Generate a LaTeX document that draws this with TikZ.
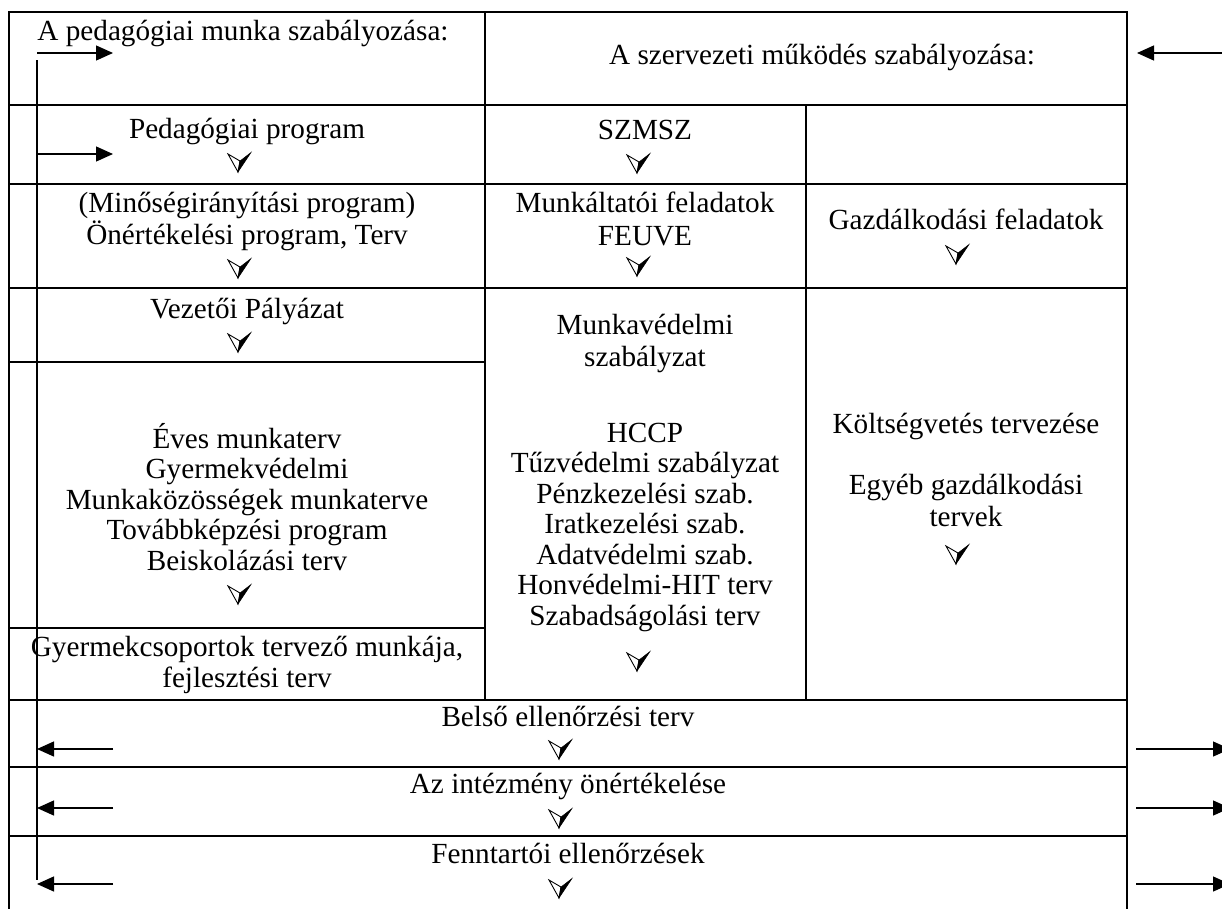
\documentclass[tikz,border=0pt]{standalone}
\usepackage{fontspec}
\setmainfont{Liberation Serif}
\usetikzlibrary{arrows.meta}
\newcommand\cellfont{\fontsize{29.2}{30.5}\selectfont}
\tikzset{
  grid/.style={line width=2.2pt, line cap=rect},
  thinln/.style={line width=1.3pt},
  flow/.style={line width=1.3pt, -{Triangle[length=17pt,width=15pt]}},
  cell/.style={anchor=base, align=center, inner sep=0pt, font=\cellfont},
  darr/.pic={
    \draw[line width=0.9pt, line join=miter, fill=white] (-11,-8) -- (1,-1) -- (-1,10) -- cycle;
    \fill[black] (1,-1) -- (12,-9.5) -- (-1,10) -- cycle;
    \draw[line width=0.5pt, line join=miter] (1,-1) -- (12,-9.5) -- (-1,10) -- cycle;
  }
}
\begin{document}
\begin{tikzpicture}[x=1pt,y=-1pt]
\useasboundingbox (0,0) rectangle (1222,908);
\clip (0,0) rectangle (1222,908);

% table frame
\draw[grid] (9,920) -- (9,12) -- (1127,12) -- (1127,920);
\draw[grid] (485,12) -- (485,700);
\draw[grid] (806,105) -- (806,700);
\foreach \yy in {105,184,288,700,767,836} \draw[grid] (9,\yy) -- (1127,\yy);
\foreach \yy in {362,628} \draw[grid] (9,\yy) -- (485,\yy);

% cell texts (base = baseline of the last line)
\node[cell] (pedmunka) at (243,40) {A pedagógiai munka szabályozása:};
\node[cell] (szervmuk) at (822,64) {A szervezeti működés szabályozása:};
\node[cell] (pedprog) at (247,138) {Pedagógiai program};
\node[cell] (szmsz) at (645,139) {SZMSZ};
\node[cell] (minoseg) at (247,244) {(Minőségirányítási program)\\[1.5pt]Önértékelési program, Terv};
\node[cell] (munkalt) at (645,245) {Munkáltatói feladatok\\[2.5pt]FEUVE};
\node[cell] (gazd) at (966,229) {Gazdálkodási feladatok};
\node[cell] (vezpal) at (247,318) {Vezetői Pályázat};
\node[cell] (eves) at (247,570) {Éves munkaterv\\Gyermekvédelmi\\Munkaközösségek munkaterve\\Továbbképzési program\\Beiskolázási terv};
\node[cell] (gyermcs) at (247,687) {Gyermekcsoportok tervező munkája,\\[0.5pt]fejlesztési terv};
\node[cell] (munkaved) at (645,625) {Munkavédelmi\\[1.5pt]szabályzat\\[45.5pt]HCCP\\Tűzvédelmi szabályzat\\Pénzkezelési szab.\\Iratkezelési szab.\\Adatvédelmi szab.\\Honvédelmi-HIT terv\\Szabadságolási terv};
\node[cell] (koltseg) at (966,526) {Költségvetés tervezése\\[30.5pt]Egyéb gazdálkodási\\[1.5pt]tervek};
\node[cell] (belso) at (568,726) {Belső ellenőrzési terv};
\node[cell] (intonert) at (568,793) {Az intézmény önértékelése};
\node[cell] (fennt) at (568,863) {Fenntartói ellenőrzések};

% small down arrows (symbols)
\foreach \px/\py in {239/162, 638/163, 239/268, 638/266, 957/254, 239/342, 239/594, 638/661, 957/554, 560/749, 560/818, 560/888}
  \pic at (\px,\py) {darr};

% left flow line and arrows
\coordinate (ltop) at (37,60);
\coordinate (lbot) at (37,880);
\draw[thinln] (ltop) -- (lbot);
\coordinate (la1) at (37,53);   \coordinate (la1e) at (113,53);
\coordinate (la2) at (37,154);  \coordinate (la2e) at (113,154);
\draw[flow] (la1) -- (la1e);
\draw[flow] (la2) -- (la2e);
\coordinate (lb1) at (113,749); \coordinate (lb1e) at (37,749);
\coordinate (lb2) at (113,808); \coordinate (lb2e) at (37,808);
\coordinate (lb3) at (113,884); \coordinate (lb3e) at (37,884);
\draw[flow] (lb1) -- (lb1e);
\draw[flow] (lb2) -- (lb2e);
\draw[flow] (lb3) -- (lb3e);

% right arrows
\coordinate (ra0) at (1225,53); \coordinate (ra0e) at (1137,53);
\draw[flow] (ra0) -- (ra0e);
\coordinate (rb1) at (1136,749); \coordinate (rb1e) at (1230,749);
\coordinate (rb2) at (1136,808); \coordinate (rb2e) at (1230,808);
\coordinate (rb3) at (1136,884); \coordinate (rb3e) at (1230,884);
\draw[flow] (rb1) -- (rb1e);
\draw[flow] (rb2) -- (rb2e);
\draw[flow] (rb3) -- (rb3e);
\end{tikzpicture}
\end{document}
